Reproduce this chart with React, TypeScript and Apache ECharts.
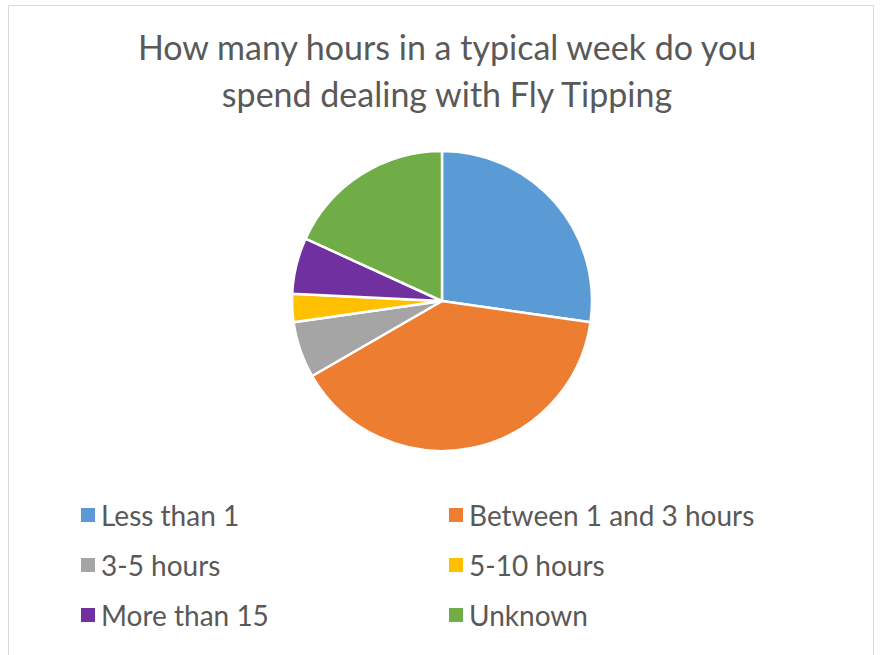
import React, { useEffect, useRef } from "react";
import * as echarts from "echarts";

const titleText = "How many hours in a typical week do you\nspend dealing with Fly Tipping";
const categories = [
  "Less than 1",
  "Between 1 and 3 hours",
  "3-5 hours",
  "5-10 hours",
  "More than 15",
  "Unknown",
];
const values = [9, 13, 2, 1, 2, 6];
const colors = ["#5B9BD5", "#ED7D31", "#A5A5A5", "#FFC000", "#7030A0", "#70AD47"];
const leftLegend = [categories[0], categories[2], categories[4]];
const rightLegend = [categories[1], categories[3], categories[5]];

const FONT = "Lato, 'Open Sans', sans-serif";

export default function App() {
  const ref = useRef<HTMLDivElement>(null);
  useEffect(() => {
    if (!ref.current) return;
    const chart = echarts.init(ref.current, undefined, { renderer: "svg" });
    const legendCommon = {
      orient: "vertical" as const,
      top: 495,
      itemWidth: 14,
      itemHeight: 14,
      itemGap: 20,
      icon: "rect",
      selectedMode: false,
      itemStyle: { borderWidth: 0 },
      textStyle: {
        color: "#595959",
        fontSize: 28,
        fontFamily: FONT,
        lineHeight: 30,
        padding: [0, 0, 0, 1],
      },
    };
    chart.setOption({
      animation: false,
      color: colors,
      title: {
        text: titleText,
        left: 442,
        textAlign: "center",
        top: 18,
        textStyle: {
          color: "#595959",
          fontSize: 34,
          fontWeight: "normal",
          fontFamily: FONT,
          lineHeight: 47,
        },
      },
      legend: [
        { ...legendCommon, left: 76, data: leftLegend },
        { ...legendCommon, left: 444, data: rightLegend },
      ],
      graphic: [
        {
          type: "rect",
          shape: { x: 8.5, y: 5.5, width: 865, height: 700 },
          style: { fill: "none", stroke: "#D9D9D9", lineWidth: 1 },
          silent: true,
        },
      ],
      series: [
        {
          type: "pie",
          center: [442, 301],
          radius: 150,
          startAngle: 90,
          clockwise: true,
          label: { show: false },
          labelLine: { show: false },
          itemStyle: { borderColor: "#FFFFFF", borderWidth: 2.5 },
          emphasis: { disabled: true },
          data: categories.map((name, i) => ({ name, value: values[i] })),
        },
      ],
    });
    return () => chart.dispose();
  }, []);
  return (
    <div
      ref={ref}
      style={{ position: "fixed", left: 0, top: 0, width: 880, height: 655, background: "#fff" }}
    />
  );
}
